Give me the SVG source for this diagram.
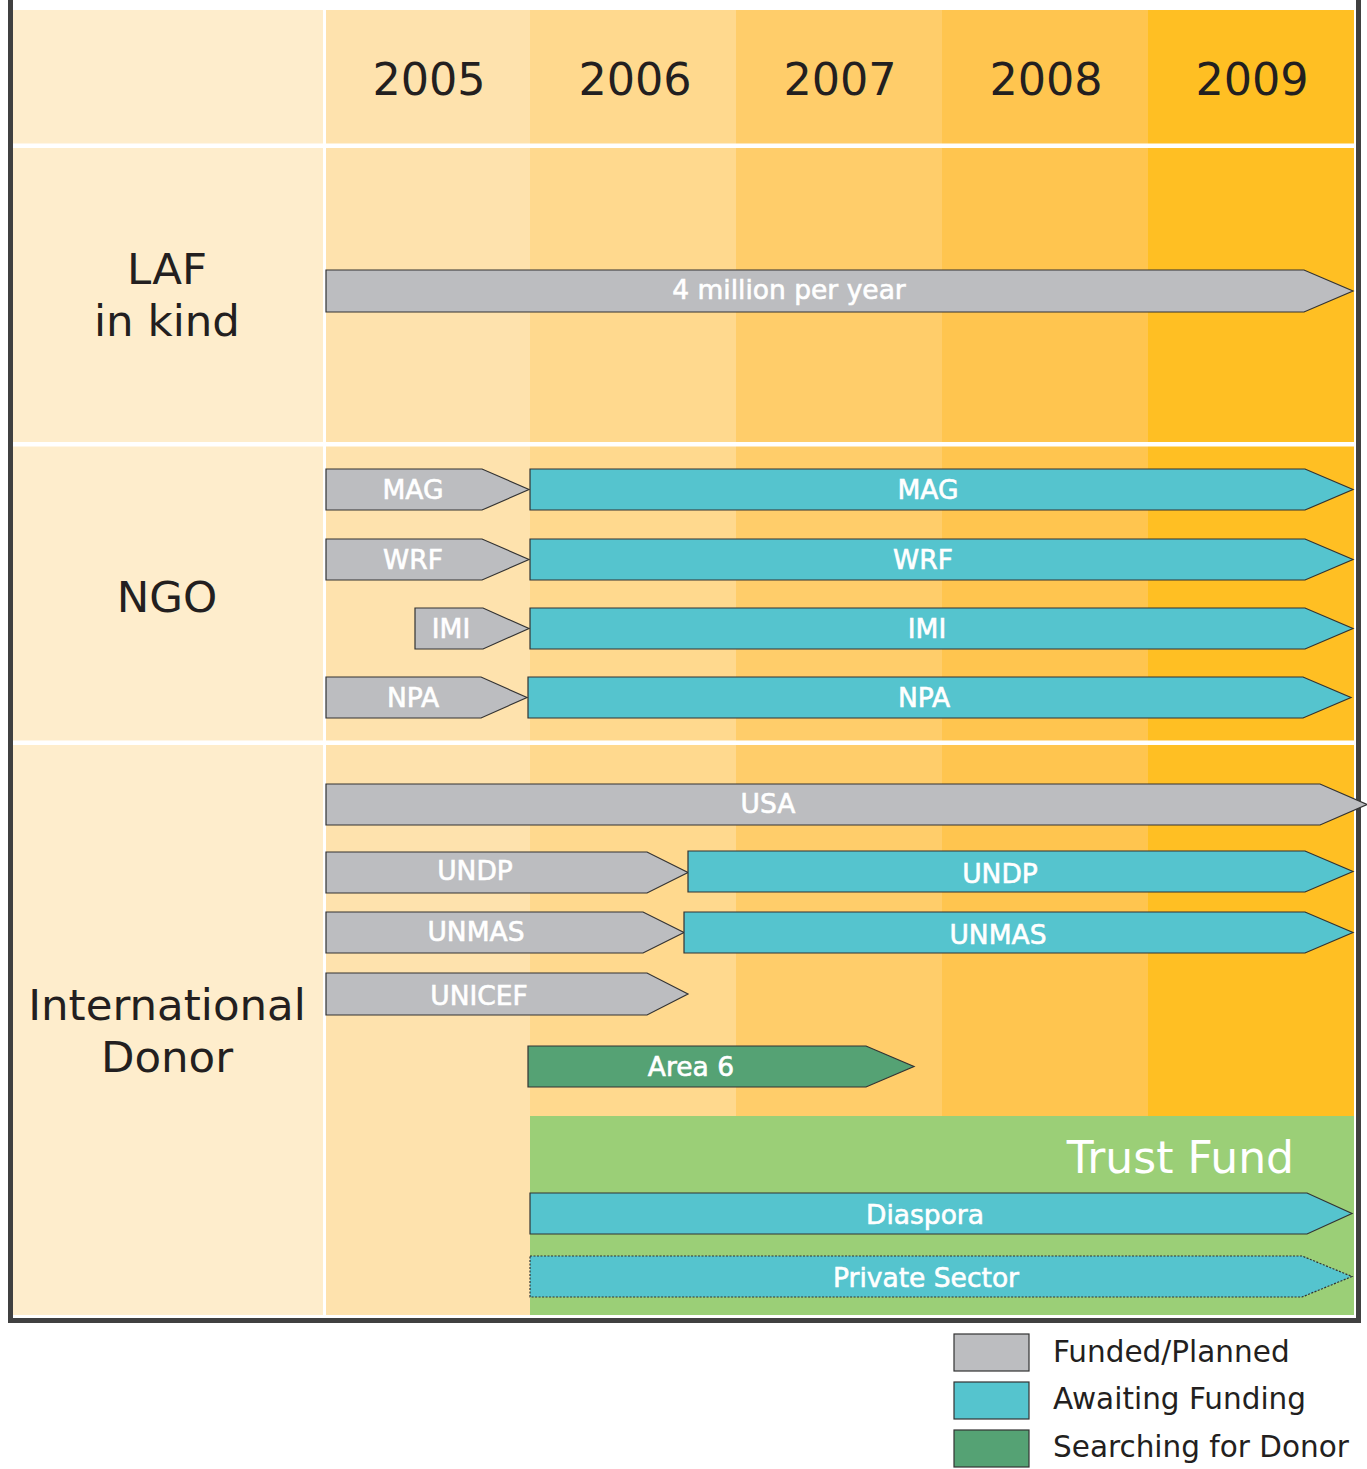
<svg xmlns="http://www.w3.org/2000/svg" width="1367" height="1469" viewBox="0 0 1367 1469">
  <style>
    .yr { font-family: "DejaVu Sans", Verdana, sans-serif; font-size: 44.5px; fill: #231f20; text-anchor: middle; }
    .tf { font-family: "DejaVu Sans", Verdana, sans-serif; font-size: 44px; fill: #ffffff; text-anchor: end; }
    .cat { font-family: "DejaVu Sans", Verdana, sans-serif; font-size: 43.5px; fill: #231f20; text-anchor: middle; }
    .lbl { font-family: "DejaVu Sans", Verdana, sans-serif; font-size: 26.5px; fill: #ffffff; stroke: #ffffff; stroke-width: 0.6; text-anchor: middle; }
    .leg { font-family: "DejaVu Sans", Verdana, sans-serif; font-size: 29.5px; fill: #231f20; }
    .funded { fill: #bcbdc0; stroke: #333333; stroke-width: 1.2; }
    .await { fill: #55c4ce; stroke: #333333; stroke-width: 1.2; }
    .search { fill: #55a274; stroke: #333333; stroke-width: 1.2; }
    .dotted { stroke-dasharray: 2 1.5; }
  </style>

  <rect width="1367" height="1469" fill="#ffffff"/>

  <!-- column backgrounds -->
  <g id="columns">
    <rect x="13" y="10" width="310" height="1305" fill="#feedcc"/>
    <rect x="326" y="10" width="204" height="1305" fill="#fee2ad"/>
    <rect x="530" y="10" width="206" height="1305" fill="#ffd98e"/>
    <rect x="736" y="10" width="206" height="1305" fill="#ffcd6a"/>
    <rect x="942" y="10" width="206" height="1305" fill="#ffc54f"/>
    <rect x="1148" y="10" width="206" height="1305" fill="#ffbf23"/>
    <!-- row separators -->
    <rect x="13" y="143.5" width="1341" height="4.5" fill="#ffffff"/>
    <rect x="13" y="442" width="1341" height="4.5" fill="#ffffff"/>
    <rect x="13" y="740.5" width="1341" height="4.5" fill="#ffffff"/>
  </g>

  <!-- trust fund band -->
  <g id="trust-fund">
    <rect x="530" y="1116" width="824" height="199" fill="#9bcf77"/>
    <text x="1294" y="1173" class="tf">Trust Fund</text>
  </g>

  <!-- frame -->
  <path d="M10.5,0 V1320.5 H1358.5 V0" fill="none" stroke="#404040" stroke-width="5"/>

  <!-- year headers -->
  <g id="years">
    <text x="429" y="95" class="yr">2005</text>
    <text x="635" y="95" class="yr">2006</text>
    <text x="840" y="95" class="yr">2007</text>
    <text x="1046" y="95" class="yr">2008</text>
    <text x="1252" y="95" class="yr">2009</text>
  </g>

  <!-- row headers -->
  <g id="categories">
    <text x="167" y="284" class="cat">LAF</text>
    <text x="167" y="336" class="cat">in kind</text>
    <text x="167" y="612" class="cat">NGO</text>
    <text x="167" y="1020" class="cat">International</text>
    <text x="167" y="1072" class="cat">Donor</text>
  </g>

  <!-- LAF -->
  <g id="laf">
    <path class="funded" d="M326,270 H1304 L1353,291 L1304,312 H326 Z"/>
    <text x="789" y="299" class="lbl">4 million per year</text>
  </g>

  <!-- NGO -->
  <g id="ngo-mag-funded">
    <path class="funded" d="M326,469 H482 L529,489.5 L482,510 H326 Z"/>
    <text x="413" y="499" class="lbl">MAG</text>
  </g>
  <g id="ngo-mag-await">
    <path class="await" d="M530,469 H1305 L1353,489.5 L1305,510 H530 Z"/>
    <text x="928" y="499" class="lbl">MAG</text>
  </g>
  <g id="ngo-wrf-funded">
    <path class="funded" d="M326,539 H482 L529,559.5 L482,580 H326 Z"/>
    <text x="413" y="569" class="lbl">WRF</text>
  </g>
  <g id="ngo-wrf-await">
    <path class="await" d="M530,539 H1305 L1353,559.5 L1305,580 H530 Z"/>
    <text x="923" y="569" class="lbl">WRF</text>
  </g>
  <g id="ngo-imi-funded">
    <path class="funded" d="M415,608 H483 L529,628.5 L483,649 H415 Z"/>
    <text x="451" y="638" class="lbl">IMI</text>
  </g>
  <g id="ngo-imi-await">
    <path class="await" d="M530,608 H1305 L1353,628.5 L1305,649 H530 Z"/>
    <text x="927" y="638" class="lbl">IMI</text>
  </g>
  <g id="ngo-npa-funded">
    <path class="funded" d="M326,677 H481 L527,697.5 L481,718 H326 Z"/>
    <text x="413" y="707" class="lbl">NPA</text>
  </g>
  <g id="ngo-npa-await">
    <path class="await" d="M528,677 H1303 L1351,697.5 L1303,718 H528 Z"/>
    <text x="924" y="707" class="lbl">NPA</text>
  </g>

  <!-- International donors -->
  <g id="donor-usa">
    <path class="funded" d="M326,784 H1320 L1367,804.5 L1320,825 H326 Z"/>
    <text x="768" y="813" class="lbl">USA</text>
  </g>
  <g id="donor-undp-funded">
    <path class="funded" d="M326,852 H647 L688,872.5 L647,893 H326 Z"/>
    <text x="475" y="880" class="lbl">UNDP</text>
  </g>
  <g id="donor-undp-await">
    <path class="await" d="M688,851 H1305 L1353,871.5 L1305,892 H688 Z"/>
    <text x="1000" y="883" class="lbl">UNDP</text>
  </g>
  <g id="donor-unmas-funded">
    <path class="funded" d="M326,912 H643 L684,932.5 L643,953 H326 Z"/>
    <text x="476" y="941" class="lbl">UNMAS</text>
  </g>
  <g id="donor-unmas-await">
    <path class="await" d="M684,912 H1305 L1353,932.5 L1305,953 H684 Z"/>
    <text x="998" y="944" class="lbl">UNMAS</text>
  </g>
  <g id="donor-unicef">
    <path class="funded" d="M326,973 H647 L688,994 L647,1015 H326 Z"/>
    <text x="479" y="1005" class="lbl">UNICEF</text>
  </g>
  <g id="donor-area6">
    <path class="search" d="M528,1046 H866 L914,1066.5 L866,1087 H528 Z"/>
    <text x="691" y="1076" class="lbl">Area 6</text>
  </g>
  <g id="donor-diaspora">
    <path class="await" d="M530,1193 H1307 L1352,1213.5 L1307,1234 H530 Z"/>
    <text x="925" y="1224" class="lbl">Diaspora</text>
  </g>
  <g id="donor-private-sector">
    <path class="await dotted" d="M530,1256 H1302 L1352,1276.5 L1302,1297 H530 Z"/>
    <text x="926" y="1287" class="lbl">Private Sector</text>
  </g>

  <!-- legend -->
  <g id="legend">
    <rect x="954" y="1334" width="75" height="37" class="funded"/>
    <text x="1053" y="1362" class="leg">Funded/Planned</text>
    <rect x="954" y="1382" width="75" height="37" class="await"/>
    <text x="1053" y="1409" class="leg">Awaiting Funding</text>
    <rect x="954" y="1430" width="75" height="37" class="search"/>
    <text x="1053" y="1457" class="leg">Searching for Donor</text>
  </g>
</svg>
